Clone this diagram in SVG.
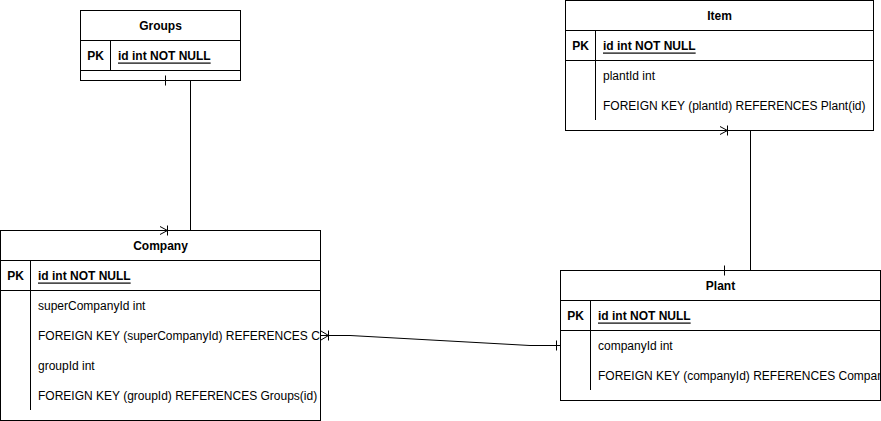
<svg xmlns="http://www.w3.org/2000/svg" width="881" height="421" viewBox="0 0 881 421">
<style>
.box{fill:#fff;stroke:#000;stroke-width:1}
.ln{fill:none;stroke:#000;stroke-width:1}
text{font-family:"Liberation Sans",Arial,Helvetica,sans-serif;font-size:12px;fill:#000;dominant-baseline:central}
.h{font-weight:bold;text-anchor:middle}
.pk{font-weight:bold;text-anchor:middle}
.id{font-weight:bold;text-decoration:underline}
</style>
<defs>
<clipPath id="cc"><rect x="0" y="230" width="320" height="190"/></clipPath>
<clipPath id="cp"><rect x="560" y="270" width="320" height="130"/></clipPath>
</defs>
<g id="groups">
<rect class="box" x="80.5" y="10.5" width="160" height="70"/>
<path class="ln" d="M80.5 40.5H240.5M80.5 70.5H240.5M110.5 40.5V70.5"/>
<text class="h" x="160.5" y="25.5">Groups</text>
<text class="pk" x="95.5" y="55.5">PK</text>
<text class="id" x="118" y="55.5">id int NOT NULL</text>
</g>
<g id="company">
<rect class="box" x="0.5" y="230.5" width="320" height="190"/>
<path class="ln" d="M0.5 260.5H320.5M0.5 290.5H320.5M30.5 260.5V410"/>
<text class="h" x="160.5" y="245.5">Company</text>
<text class="pk" x="15.5" y="275.5">PK</text>
<text class="id" x="38" y="275.5">id int NOT NULL</text>
<g clip-path="url(#cc)">
<text x="38" y="305.5">superCompanyId int</text>
<text x="38" y="335.5">FOREIGN KEY (superCompanyId) REFERENCES Company(id)</text>
<text x="38" y="365.5">groupId int</text>
<text x="38" y="395.5">FOREIGN KEY (groupId) REFERENCES Groups(id)</text>
</g>
</g>
<g id="item">
<rect class="box" x="565.5" y="0.5" width="308" height="130"/>
<path class="ln" d="M565.5 30.5H873.5M565.5 60.5H873.5M595.5 30.5V120"/>
<text class="h" x="719.5" y="15.5">Item</text>
<text class="pk" x="580.5" y="45.5">PK</text>
<text class="id" x="603" y="45.5">id int NOT NULL</text>
<text x="603" y="75.5">plantId int</text>
<text x="603" y="105.5">FOREIGN KEY (plantId) REFERENCES Plant(id)</text>
</g>
<g id="plant">
<rect class="box" x="560.5" y="270.5" width="320" height="130"/>
<path class="ln" d="M560.5 300.5H880.5M560.5 330.5H880.5M590.5 300.5V390"/>
<text class="h" x="720.5" y="285.5">Plant</text>
<text class="pk" x="575.5" y="315.5">PK</text>
<text class="id" x="598" y="315.5">id int NOT NULL</text>
<g clip-path="url(#cp)">
<text x="598" y="345.5">companyId int</text>
<text x="598" y="375.5">FOREIGN KEY (companyId) REFERENCES Company(id)</text>
</g>
</g>
<g id="connectors">
<path class="ln" d="M165.5 80.5H190.5V230.5H160.5"/>
<path class="ln" d="M165.5 75.5V85.5"/>
<path class="ln" d="M160 226.5L167.5 230.5L160 234.5M167.5 225.5V235.5"/>
<path class="ln" d="M750.5 130.5V270.5"/>
<path class="ln" d="M720 126.5L727.5 130.5L720 134.5M727.5 125.5V135.5"/>
<path class="ln" d="M724.5 265.5V275.5"/>
<path class="ln" d="M320.5 335.5H350L530 345.5H560.5"/>
<path class="ln" d="M321 331L328.5 335.5L321 340M328.5 330.5V340.5"/>
<path class="ln" d="M556.5 340.5V350.5"/>
</g>
</svg>
